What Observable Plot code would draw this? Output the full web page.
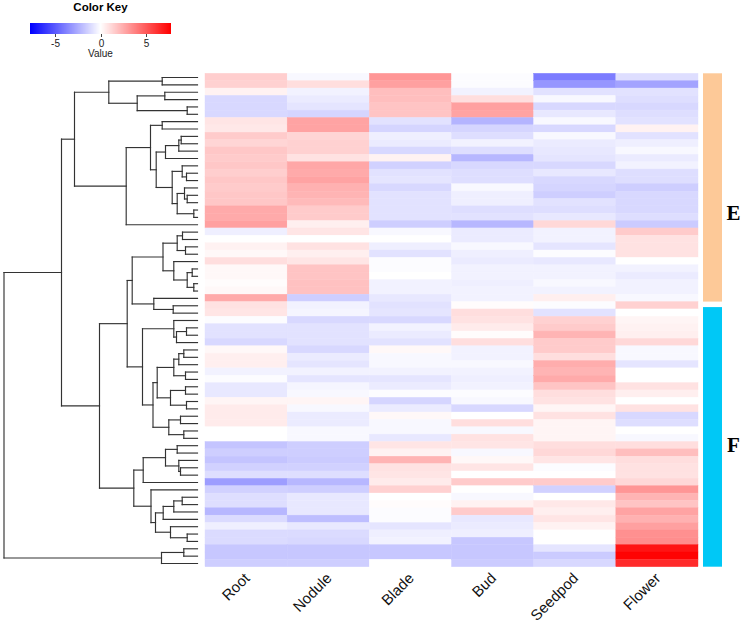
<!DOCTYPE html>
<html><head><meta charset="utf-8">
<script src="https://cdn.jsdelivr.net/npm/d3@7"></script>
<script src="https://cdn.jsdelivr.net/npm/@observablehq/plot@0.6"></script>
<style>
body{margin:0;background:#fff;}
#wrap{position:relative;width:742px;height:629px;font-family:"Liberation Sans",Arial,sans-serif;color:#000;}
#wrap svg{position:absolute;left:0;top:0;}
.key-title{position:absolute;left:30px;width:141px;top:1px;text-align:center;font-weight:bold;font-size:11.5px;}
.key-sub{position:absolute;left:30px;width:141px;top:48px;text-align:center;font-size:10px;color:#222;}
#legend{position:absolute;left:30px;top:22.5px;width:141px;height:30px;}
</style></head><body><div id="wrap"><div class="key-title">Color Key</div><div id="legend"></div><div class="key-sub">Value</div></div>
<script>
// ---- data ----
const tissues = ["Root", "Nodule", "Blade", "Bud", "Seedpod", "Flower"];
const root = [1.5,1.4,0.4,-1.2,-1.2,-1.2,0.8,0.7,1.6,1.3,1.7,1.6,1.7,1.5,1.7,1.6,1.7,1.7,2.6,2.6,2.9,-0.5,0,0.4,0.2,1.0,0.2,0.2,0.1,0.2,2.6,0.9,0.8,-0.1,-0.9,-0.9,-1.2,0.2,0.5,0.5,-0.4,-0.1,-0.7,-0.7,0.3,0.6,0.6,0.6,0,0,-1.8,-1.5,-1.8,-1.4,-1.0,-3.0,-1.4,-1.0,-1.0,-2.2,-1.1,-0.5,-1.1,-1.1,-1.7,-1.7,-1.5];
const nodule = [-0.2,1.0,-0.4,-0.6,-0.8,-1.3,2.8,2.8,1.3,1.4,1.4,0.9,2.7,2.6,2.8,2.4,2.3,2.1,1.6,1.6,0.5,0.8,0,0.9,0.5,0.8,1.8,1.8,1.9,1.9,-1.5,-0.4,-0.3,-1.2,-0.9,-0.9,-0.9,-1.2,-0.6,-0.8,-0.4,-0.8,-0.3,-0.2,0.3,-0.2,-0.6,-0.6,-0.2,-0.2,-1.5,-1.5,-1.6,-1.4,-1.0,-2.2,-1.5,-0.7,-0.7,-0.7,-2.0,-0.7,-1.1,-1.2,-1.7,-1.7,-1.5];
const blade = [3.2,2.9,2.0,2.0,1.8,1.8,-0.9,-1.3,-0.5,-0.6,-1.2,0.4,-1.4,-0.9,-0.8,-1.2,-0.9,-0.9,-0.9,-0.9,-1.5,-0.2,0,-0.5,-0.9,-0.1,-0.1,0,-0.4,-0.4,-0.7,-0.9,-0.8,-1.2,-0.4,-0.6,-0.9,0.2,-0.2,-0.2,-0.4,-0.8,-0.6,-0.1,-1.3,-0.6,0.2,-0.2,-0.2,-0.7,0.8,0.4,2.3,0.9,0.8,0.6,1.4,0,0.1,-0.1,-0.1,-0.8,-0.5,-0.4,-1.7,-1.7,0];
const bud = [-0.1,-0.1,-0.4,1.0,2.9,2.8,-2.3,-1.3,-1.0,-0.4,-1.0,-2.2,-1.2,-1.0,-1.0,-0.2,-0.5,-0.5,-1.0,-0.9,-2.2,-0.6,-0.6,-0.2,-0.5,-0.6,-0.4,-0.4,-0.5,-0.4,-0.4,0.1,1.0,0.9,0.6,0.1,1.0,-0.4,-0.4,-0.2,-0.4,-0.5,-0.4,-0.1,-0.2,-1.2,0,1.0,-0.2,0.9,0.8,-0.2,0.2,0.8,0,1.6,0,-0.2,0.4,1.6,-0.7,-0.6,-0.5,-1.7,-1.7,-1.7,-1.6];
const seedpod = [-4.0,-3.2,-0.9,-0.2,-1.2,-0.7,-0.2,-1.2,-0.2,-0.6,-0.7,-0.8,-1.2,-0.7,-1.2,-1.3,-1.5,-0.9,-1.0,-0.7,1.2,-0.4,-0.4,-0.8,-0.1,-0.7,-0.4,-0.4,-0.2,-0.4,0.5,-0.1,-0.9,1.4,1.6,2.3,1.6,1.6,1.0,2.5,2.3,2.6,1.8,1.0,0.9,0.3,0.9,0.3,0.3,0.3,1.0,1.2,0.8,-0.1,0,1.6,-1.4,0,0.7,0.5,0.8,0.4,0,0,-0.8,-1.6,-1.2];
const flower = [-1.0,-2.8,-0.9,-1.0,-1.2,-1.0,-0.9,0.4,-0.9,-0.5,-0.2,-0.6,-0.4,-1.0,-1.0,-1.5,-1.2,-1.2,-1.2,-1.0,-1.6,1.6,0.9,0.9,0.9,0,-0.4,-0.6,-0.4,-0.4,-0.2,1.4,0,0.3,0.4,0.5,1.2,-0.2,-0.2,-0.8,0,0,0.9,0.5,0,0.9,-1.2,-1.0,0,-0.2,1.0,2.0,1.0,0.9,0.9,1.2,3.2,2.3,1.8,2.8,2.4,2.9,3.4,3.5,7.2,7.7,6.5];
const keyTicks = [-5, 0, 5];
const keyDomain = [-7.8, 0, 7.8];
// hclust-style merges: [a, b, height]; negative = leaf (row), positive = earlier merge
const merges = [
  [-1,-2,35.3],[-3,-4,32.7],[-5,-6,10.3],[2,3,60.3],[1,4,88.7],
  [-7,-8,35.3],[-9,-10,16.3],[7,-11,18.7],[8,-12,32],[-14,-15,11],
  [-13,10,15.3],[-17,-18,10.3],[-16,12,13],[-19,-20,3.7],[13,14,20.3],
  [11,15,25.3],[9,16,41.3],[6,17,47],[18,-21,71.3],[5,19,123],
  [-22,-23,15],[-24,-25,12],[21,22,20.3],[-27,-28,5.3],[-29,-30,3.7],
  [24,25,10.3],[-26,26,23.7],[23,27,34.5],[-32,-33,24.3],[-31,29,43.7],
  [28,30,65.3],[-35,-36,11],[32,-37,21],[-34,33,23.7],[-38,-39,13.7],
  [35,-40,18.7],[-41,-42,12],[36,37,23.7],[-43,-44,12],[-45,-46,11],
  [39,40,27],[38,41,40.3],[-47,-48,17],[-49,-50,13.7],[43,44,28.7],
  [42,45,44.5],[34,46,55],[31,47,70.3],[-51,-52,20.3],[-54,-55,17],
  [-53,50,18.7],[49,51,32],[52,-56,54.3],[-58,-59,15.3],[54,-60,23.7],
  [55,-61,34.3],[-63,-64,10.3],[-62,57,27],[56,58,42],[-57,59,46.5],
  [53,60,63.7],[48,61,98],[20,62,136],[-65,-66,13.7],[64,-67,36],
  [63,65,193.5]
];
const groups = [
  {label: "E", first: 1, last: 31, labelAt: 19.5, color: "#FDC998"},
  {label: "F", first: 32, last: 67, labelAt: 51, color: "#00C8F6"}
];

// ---- derived tables ----
const series = [root, nodule, blade, bud, seedpod, flower];
const rowIds = root.map((_, i) => i + 1);
const cells = tissues.flatMap((t, j) => series[j].map((v, i) => ({tissue: t, row: i + 1, value: v})));
const nodes = [];
const segs = [];
const pos = (r) => r < 0 ? {h: 0, y: -r} : nodes[r - 1];
merges.forEach(([a, b, h]) => {
  const A = pos(a), B = pos(b);
  segs.push({x1: A.h, y1: A.y, x2: h, y2: A.y});
  segs.push({x1: B.h, y1: B.y, x2: h, y2: B.y});
  segs.push({x1: h, y1: A.y, x2: h, y2: B.y});
  nodes.push({h, y: (A.y + B.y) / 2});
});
const nRows = rowIds.length;
const maxH = d3.max(merges, (m) => m[2]);

const colorOpts = {type: "linear", domain: keyDomain, range: ["#0000ff", "#ffffff", "#ff0000"], interpolate: "rgb"};
const M = {marginTop: 73.3, marginBottom: 62.3};
const bgStyle = "background:transparent;overflow:visible;";
const wrap = document.getElementById("wrap");

const heat = Plot.plot({
  width: 742, height: 629, marginLeft: 205, marginRight: 44, ...M,
  style: bgStyle,
  x: {domain: tissues, padding: 0, round: false, axis: null},
  y: {domain: rowIds, padding: 0, round: false, axis: null},
  color: colorOpts,
  marks: [
    Plot.cell(cells, {x: "tissue", y: "row", fill: "value", stroke: "value", strokeWidth: 0.4, inset: 0}),
    Plot.text(tissues, {x: (d) => d, text: (d) => d, frameAnchor: "bottom", dx: 4, dy: 12, rotate: -45, textAnchor: "end", fontSize: 15, fill: "#111", fontFamily: "Liberation Sans"})
  ]
});
wrap.appendChild(heat);

const dendro = Plot.plot({
  width: 205, height: 629, marginLeft: 3.5, marginRight: 8, ...M,
  style: bgStyle,
  x: {domain: [maxH, 0], axis: null},
  y: {domain: [0.5, nRows + 0.5], reverse: true, axis: null},
  marks: [
    Plot.link(segs, {x1: "x1", y1: "y1", x2: "x2", y2: "y2", stroke: "#333", strokeWidth: 1.15, strokeLinecap: "square"})
  ]
});
wrap.appendChild(dendro);

const side = Plot.plot({
  width: 742, height: 629, marginLeft: 703, marginRight: 20, ...M,
  style: bgStyle,
  y: {domain: [0.5, nRows + 0.5], reverse: true, axis: null},
  marks: [
    Plot.rect(groups.slice(0, 1), {y1: (d) => d.first - 0.5, y2: (d) => d.last + 0.5, fill: groups[0].color, insetBottom: 0}),
    Plot.rect(groups.slice(1), {y1: (d) => d.first - 0.5, y2: (d) => d.last + 0.5, fill: groups[1].color, insetTop: 5.5}),
    Plot.text(groups, {y: "labelAt", text: "label", frameAnchor: "right", dx: 11, textAnchor: "middle", fontSize: 21, fontWeight: "bold", fontFamily: "Liberation Serif", fill: "#000"})
  ]
});
wrap.appendChild(side);

const legend = Plot.legend({
  color: colorOpts, label: null, ticks: keyTicks, tickSize: 3, tickFormat: (d) => String(d),
  width: 141, height: 26, marginTop: 0, marginBottom: 15, marginLeft: 0, marginRight: 0,
  style: {fontFamily: "Liberation Sans", fontSize: "10px", background: "transparent", overflow: "visible", color: "#222"}
});
d3.select(legend).selectAll(".tick line").attr("y1", 0).attr("y2", 3).attr("stroke", "#444");
d3.select(legend).selectAll(".tick text").attr("y", 5.5);
document.getElementById("legend").appendChild(legend);
</script></body></html>
